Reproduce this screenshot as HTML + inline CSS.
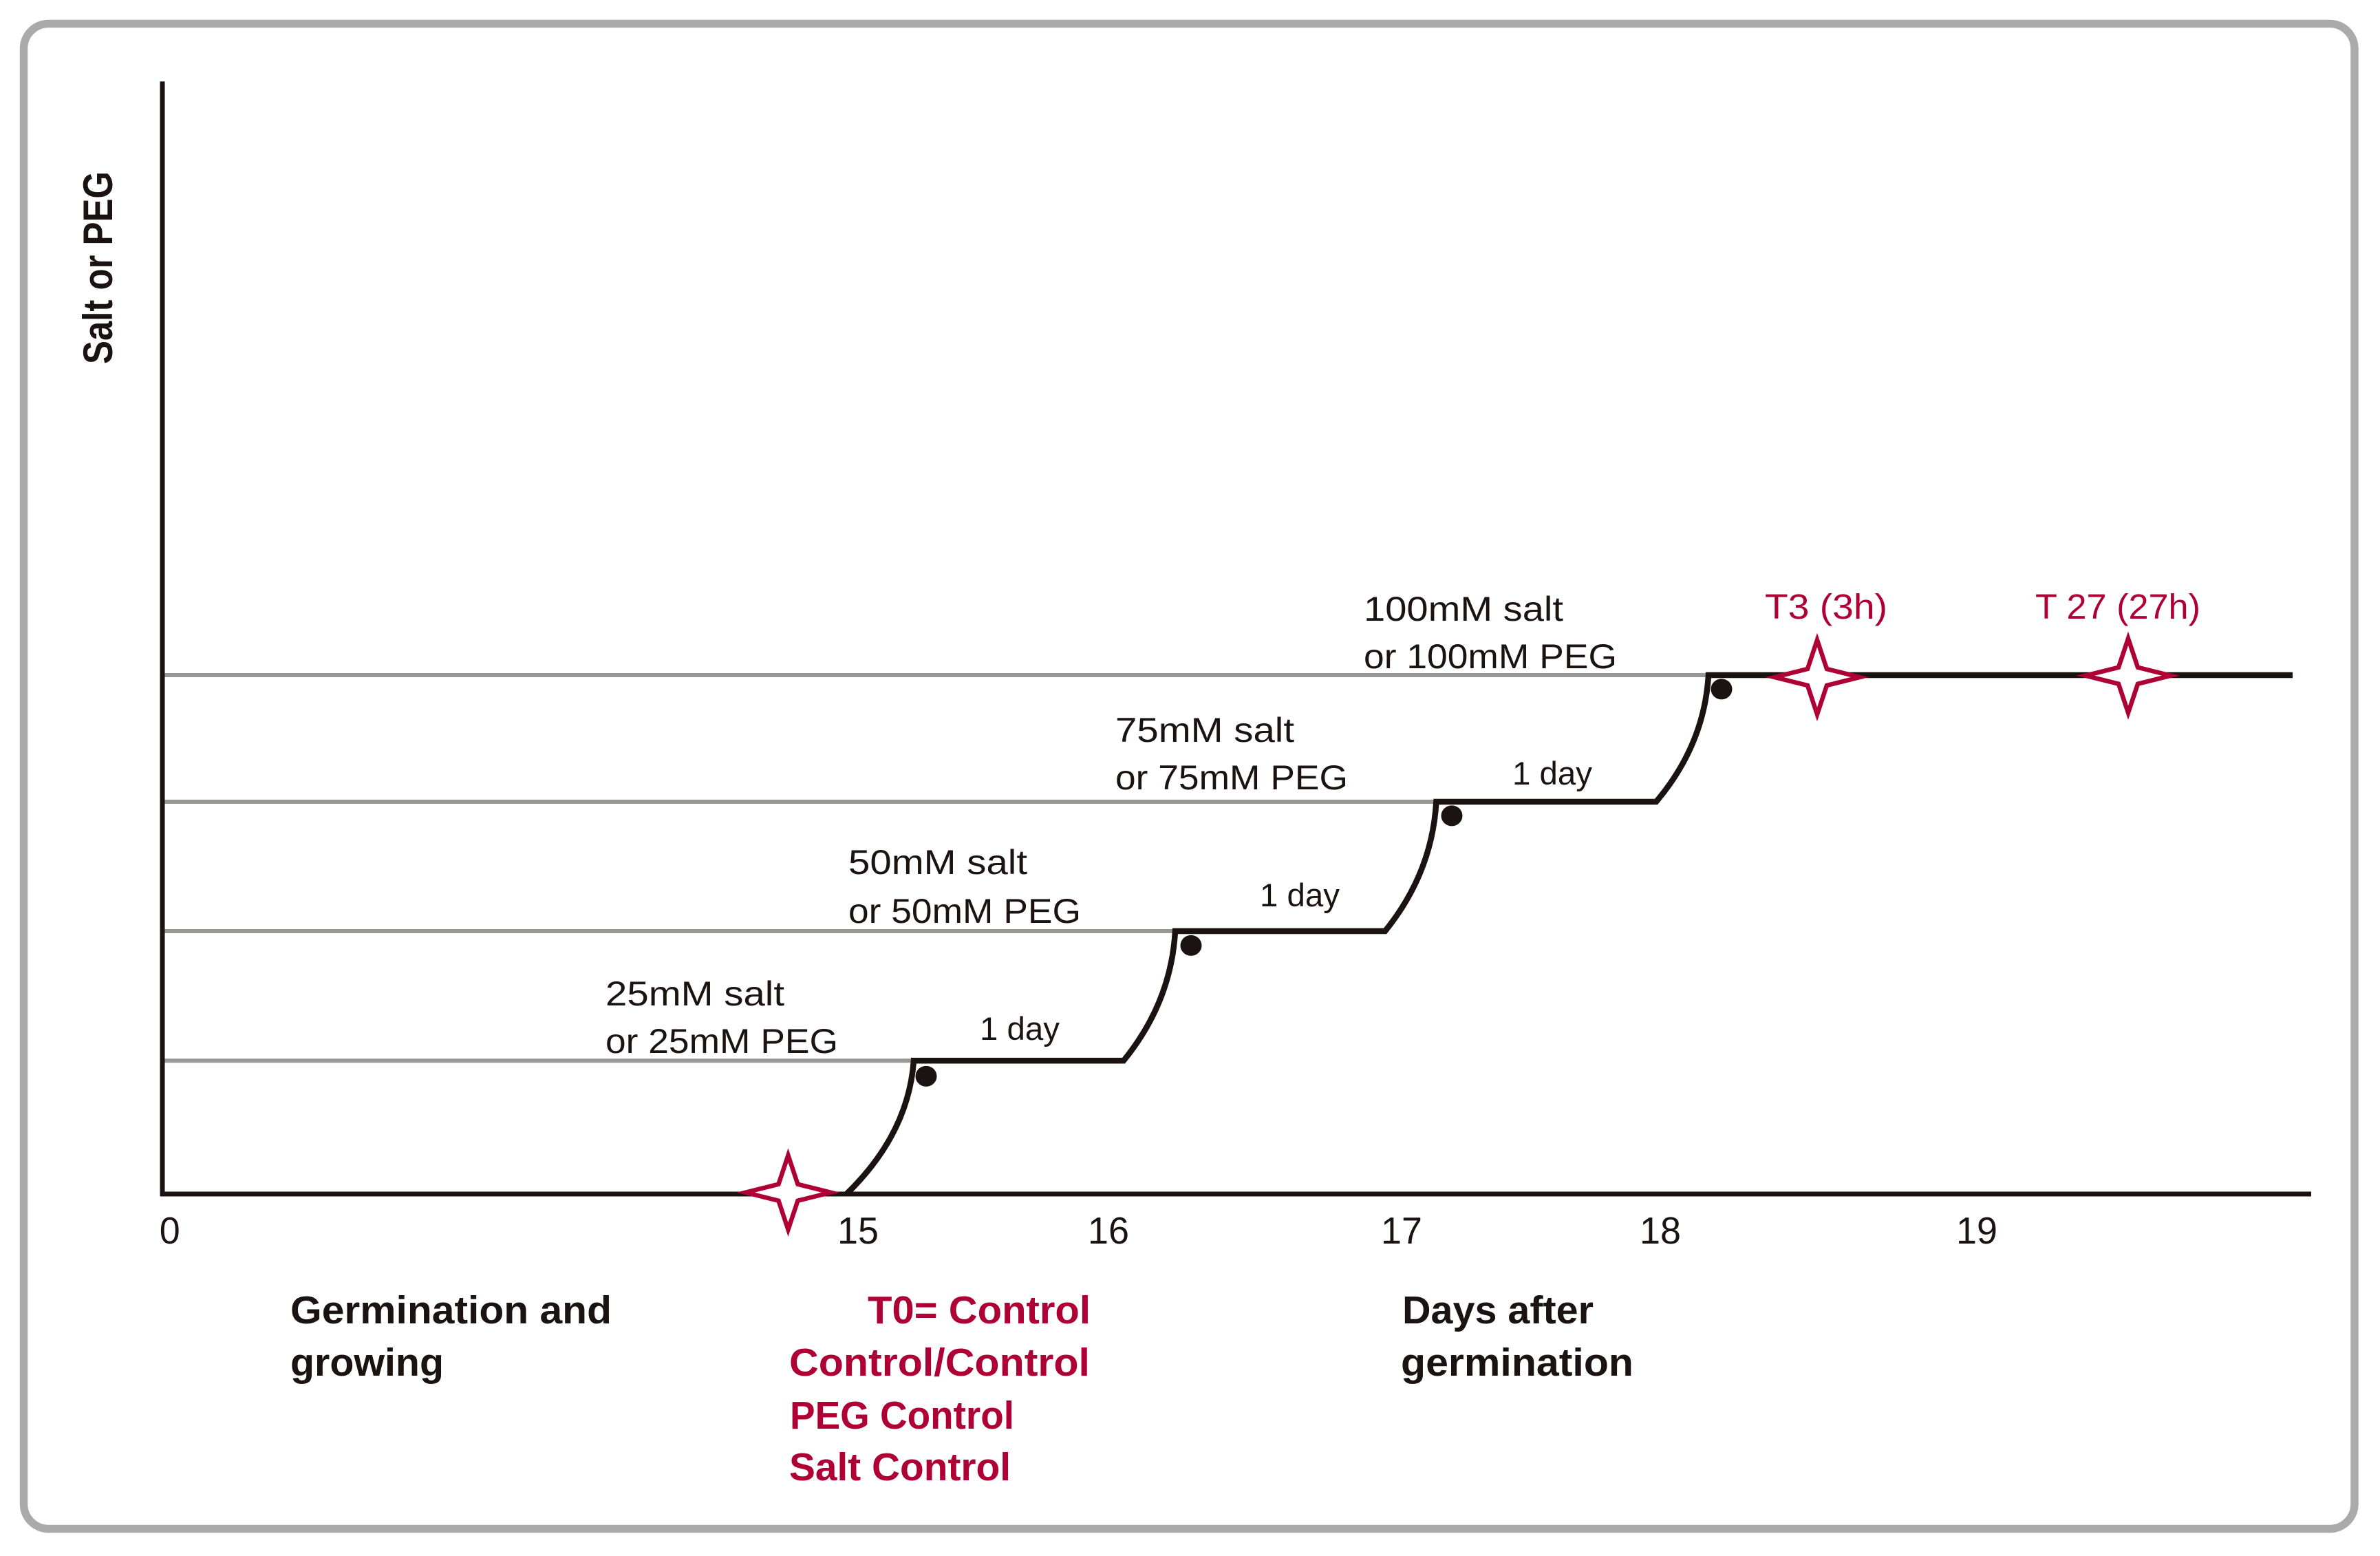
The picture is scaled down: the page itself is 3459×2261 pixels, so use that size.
<!DOCTYPE html>
<html lang="en">
<head>
<meta charset="utf-8">
<title>Salt or PEG stepwise treatment timeline</title>
<style>
html,body{margin:0;padding:0;background:#fff;}
svg{display:block;}
text{font-family:"Liberation Sans",sans-serif;}
.blk{fill:#1a1311;}
.red{fill:#ae0035;}
.lbl{font-size:50px;}
.bold{font-weight:bold;font-size:57px;}
</style>
</head>
<body>
<svg id="chart" xmlns="http://www.w3.org/2000/svg" width="3459" height="2261" viewBox="0 0 3459 2261">
  <rect x="0" y="0" width="3459" height="2261" fill="#ffffff"/>
  <rect x="34.5" y="34.5" width="3387.5" height="2187" rx="36" ry="36" fill="#ffffff" stroke="#aaaaaa" stroke-width="11.5"/>
  <g id="gridlines"></g>
  <g id="axes"></g>
  <g id="steps"></g>
  <g id="dots"></g>
  <g id="stars"></g>
  <g id="ticks"></g>

  <text class="blk" transform="translate(163,529) rotate(-90)" font-size="60" font-weight="bold" textLength="280" lengthAdjust="spacingAndGlyphs">Salt or PEG</text>

  <text class="blk lbl" x="880" y="1461" textLength="260" lengthAdjust="spacingAndGlyphs">25mM salt</text>
  <text class="blk lbl" x="880" y="1530" textLength="338" lengthAdjust="spacingAndGlyphs">or 25mM PEG</text>
  <text class="blk lbl" x="1233" y="1270" textLength="260" lengthAdjust="spacingAndGlyphs">50mM salt</text>
  <text class="blk lbl" x="1233" y="1341" textLength="338" lengthAdjust="spacingAndGlyphs">or 50mM PEG</text>
  <text class="blk lbl" x="1621" y="1078" textLength="260" lengthAdjust="spacingAndGlyphs">75mM salt</text>
  <text class="blk lbl" x="1621" y="1147" textLength="338" lengthAdjust="spacingAndGlyphs">or 75mM PEG</text>
  <text class="blk lbl" x="1982" y="902" textLength="290" lengthAdjust="spacingAndGlyphs">100mM salt</text>
  <text class="blk lbl" x="1982" y="971" textLength="368" lengthAdjust="spacingAndGlyphs">or 100mM PEG</text>

  <text class="blk" font-size="47" x="1424" y="1511" textLength="116" lengthAdjust="spacingAndGlyphs">1 day</text>
  <text class="blk" font-size="47" x="1831" y="1317" textLength="116" lengthAdjust="spacingAndGlyphs">1 day</text>
  <text class="blk" font-size="47" x="2198" y="1140" textLength="116" lengthAdjust="spacingAndGlyphs">1 day</text>

  <text class="red" font-size="51" x="2565" y="899" textLength="178" lengthAdjust="spacingAndGlyphs">T3 (3h)</text>
  <text class="red" font-size="51" x="2958" y="899" textLength="240" lengthAdjust="spacingAndGlyphs">T 27 (27h)</text>

  <text class="blk bold" x="422" y="1923" textLength="467" lengthAdjust="spacingAndGlyphs">Germination and</text>
  <text class="blk bold" x="422" y="1999" textLength="223" lengthAdjust="spacingAndGlyphs">growing</text>
  <text class="blk bold" x="2038" y="1923" textLength="278" lengthAdjust="spacingAndGlyphs">Days after</text>
  <text class="blk bold" x="2036" y="1999" textLength="338" lengthAdjust="spacingAndGlyphs">germination</text>

  <text class="red bold" x="1261" y="1923" textLength="324" lengthAdjust="spacingAndGlyphs">T0= Control</text>
  <text class="red bold" x="1147" y="1999" textLength="437" lengthAdjust="spacingAndGlyphs">Control/Control</text>
  <text class="red bold" x="1148" y="2076" textLength="326" lengthAdjust="spacingAndGlyphs">PEG Control</text>
  <text class="red bold" x="1147" y="2151" textLength="322" lengthAdjust="spacingAndGlyphs">Salt Control</text>

<script>
/* Data. Days are along the (broken) x axis, levels in mM-like plotted height. */
var tickLabels = ['0', '15', '16', '17', '18', '19'];
var tickDays = [0.16, 15.005, 15.915, 16.98, 17.92, 19.07];
var stepLevels = [25.7, 50.66, 75.6, 100];
var rampStartDays = [14.78, 15.97, 16.92, 17.905];
var rampEndDays = [15.2075, 16.1575, 17.106, 18.095];
var rampStartLevels = [0, 25.7, 50.66, 75.6];
var seriesEndDay = [20.2175];
var axisEndDay = [20.285];
var axisTopLevel = [214.4];
var dotDays = [15.2525, 16.215, 17.1625, 18.1425];
var dotLevels = [22.7, 47.9, 72.9, 97.3];
var starNames = ['t0', 't3', 't27'];
var starDays = [13.52, 18.49, 19.62];
var starLevels = [0.3, 99.6, 99.9];

var NS = 'http://www.w3.org/2000/svg';
function xScale(d) {
  return d <= 15 ? 236 + d * (1009 / 15) : 1245 + (d - 15) * 400;
}
function yScale(v) {
  return 1735 - v * 7.54;
}
function make(tag, parentId) {
  var el = document.createElementNS(NS, tag);
  document.getElementById(parentId).appendChild(el);
  return el;
}

/* guide lines */
stepLevels.forEach(function (lv, i) {
  var l = make('line', 'gridlines');
  
  
  l.setAttribute('x1', xScale(0));
  l.setAttribute('x2', xScale(rampEndDays[i]));
  l.setAttribute('y1', yScale(lv));
  l.setAttribute('y2', yScale(lv));
  l.setAttribute('stroke', '#999895');
  l.setAttribute('stroke-width', '6');
});

/* axes */
var xAxis = make('line', 'axes');


xAxis.setAttribute('x1', xScale(0) - 3);
xAxis.setAttribute('x2', xScale(axisEndDay[0]));
xAxis.setAttribute('y1', yScale(0));
xAxis.setAttribute('y2', yScale(0));
xAxis.setAttribute('stroke', '#1a1311');
xAxis.setAttribute('stroke-width', '7');
var yAxis = make('line', 'axes');


yAxis.setAttribute('x1', xScale(0));
yAxis.setAttribute('x2', xScale(0));
yAxis.setAttribute('y1', yScale(axisTopLevel[0]));
yAxis.setAttribute('y2', yScale(0) + 3);
yAxis.setAttribute('stroke', '#1a1311');
yAxis.setAttribute('stroke-width', '7');

/* step series */
var d = '';
stepLevels.forEach(function (lv, i) {
  var x0 = xScale(rampStartDays[i]), y0 = yScale(rampStartLevels[i]);
  var x1 = xScale(rampEndDays[i]), y1 = yScale(lv);
  var cx = x1 - (x1 - x0) * 0.08, cy = (y0 + y1) / 2 + (y0 - y1) * 0.05;
  d += (i === 0 ? 'M' : 'L') + x0 + ' ' + y0 + ' Q' + cx + ' ' + cy + ' ' + x1 + ' ' + y1 + ' ';
});
d += 'L' + xScale(seriesEndDay[0]) + ' ' + yScale(stepLevels[stepLevels.length - 1]);
var stepPath = make('path', 'steps');


stepPath.setAttribute('d', d);
stepPath.setAttribute('fill', 'none');
stepPath.setAttribute('stroke', '#1a1311');
stepPath.setAttribute('stroke-width', '8.5');
stepPath.setAttribute('stroke-linejoin', 'miter');

/* dots */
dotDays.forEach(function (day, i) {
  var c = make('ellipse', 'dots');
  
  
  c.setAttribute('cx', xScale(day));
  c.setAttribute('cy', yScale(dotLevels[i]));
  c.setAttribute('rx', '15.5');
  c.setAttribute('ry', '15');
  c.setAttribute('fill', '#1a1311');
});

/* stars */
starDays.forEach(function (day, i) {
  var cx = xScale(day), cy = yScale(starLevels[i]);
  var a = 62, b = 54, p = 14, q = 12;
  var pts = [[0, -b], [p, -q], [a, 0], [p, q], [0, b], [-p, q], [-a, 0], [-p, -q]];
  var s = make('polygon', 'stars');
  
  
  s.setAttribute('points', pts.map(function (o) { return (cx + o[0]) + ',' + (cy + o[1]); }).join(' '));
  s.setAttribute('fill', '#ffffff');
  s.setAttribute('stroke', '#ae0035');
  s.setAttribute('stroke-width', '6.5');
  s.setAttribute('stroke-miterlimit', '12');
});

/* tick labels */
tickLabels.forEach(function (label, i) {
  var t = make('text', 'ticks');
  
  
  t.setAttribute('x', xScale(tickDays[i]));
  t.setAttribute('y', '1807');
  t.setAttribute('text-anchor', 'middle');
  t.setAttribute('font-size', '55');
  t.setAttribute('fill', '#1a1311');
  t.setAttribute('textLength', label.length * 30);
  t.setAttribute('lengthAdjust', 'spacingAndGlyphs');
  t.textContent = label;
});
</script>
</svg>
</body>
</html>
